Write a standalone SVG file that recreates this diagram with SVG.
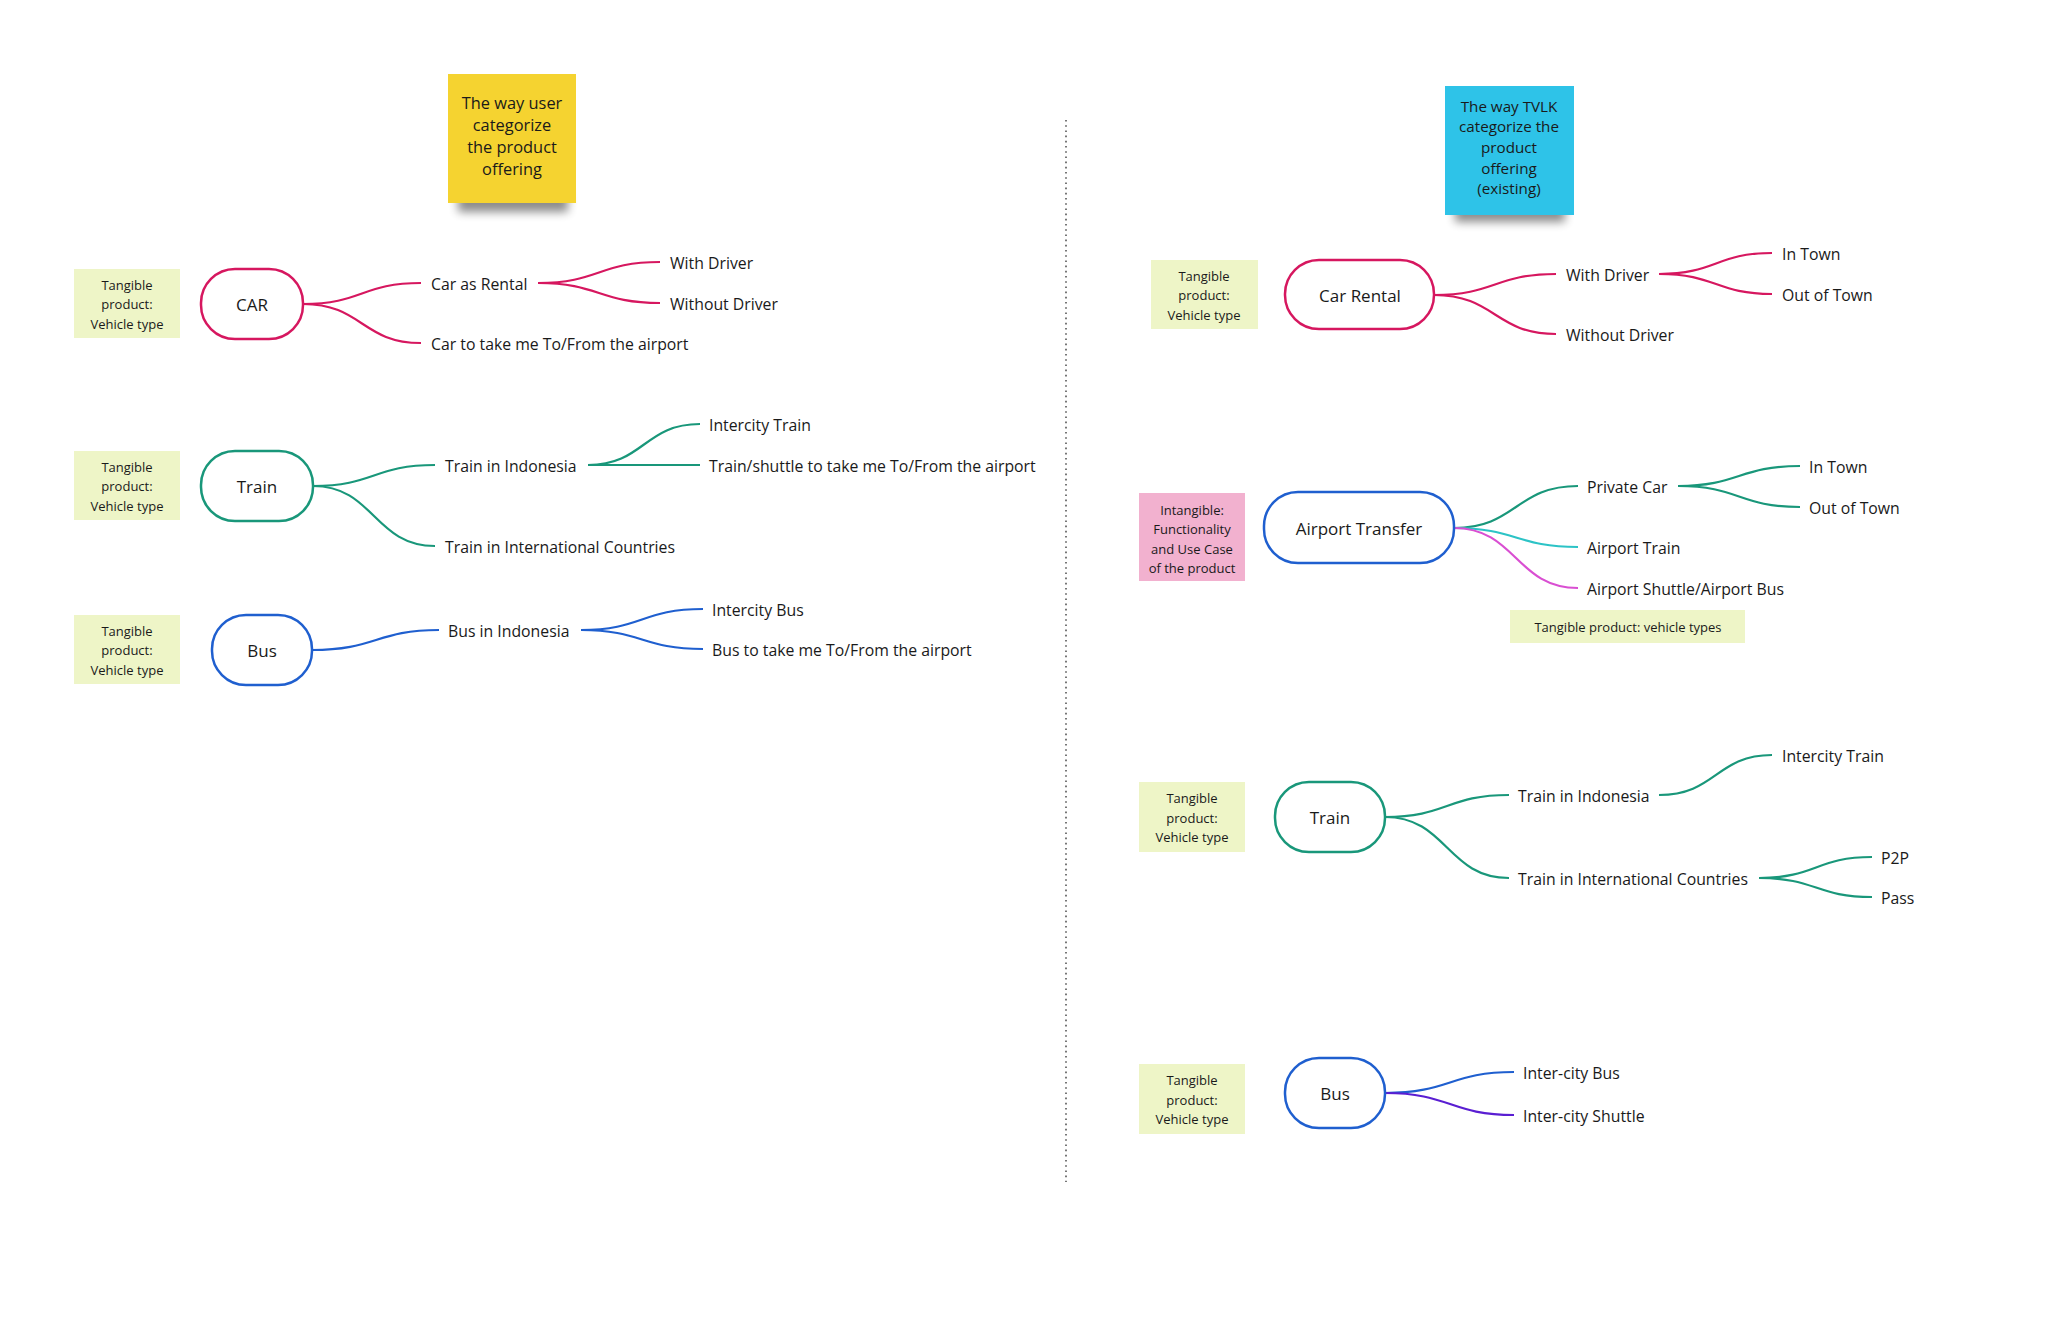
<svg xmlns="http://www.w3.org/2000/svg" width="2048" height="1339" viewBox="0 0 2048 1339">
<defs>
<filter id="sh" x="-30%" y="-100%" width="160%" height="300%"><feGaussianBlur stdDeviation="5"/></filter>
<style>
text{font-family:"Open Sans","Noto Sans","Liberation Sans",sans-serif;fill:#1a1a1a;dominant-baseline:central}
.lbl{font-size:15.8px}
.node{font-size:17px;text-anchor:middle}
.tag{font-size:13px;text-anchor:middle}
.st{font-size:16.4px;text-anchor:middle}
.tg{fill:#eef5c7}
.nd{fill:#fff;stroke-width:2.5}
.c{fill:none;stroke-width:2.2}
.pk{stroke:#d6175f}
.gn{stroke:#19977a}
.bl{stroke:#1f5fcf}
.cy{stroke:#2cc3c6}
.mg{stroke:#d94fd2}
.pu{stroke:#5a1ed2}
</style>
</defs>
<rect width="2048" height="1339" fill="#fff"/>

<line x1="1066" y1="120" x2="1066" y2="1182" stroke="#555" stroke-width="1.6" stroke-dasharray="1.6 3.6"/>

<g id="sticky-user">
<rect x="458" y="190" width="110" height="22" fill="#000" opacity="0.45" filter="url(#sh)"/>
<rect x="448" y="74" width="128" height="129" fill="#f5d330"/>
<text class="st" x="512" y="102">The way user</text>
<text class="st" x="512" y="124">categorize</text>
<text class="st" x="512" y="146">the product</text>
<text class="st" x="512" y="168">offering</text>
</g>

<g id="sticky-tvlk">
<rect x="1455" y="200" width="110" height="22" fill="#000" opacity="0.45" filter="url(#sh)"/>
<rect x="1445" y="86" width="129" height="129" fill="#2ec3e8"/>
<text class="st" style="font-size:15.2px" x="1509" y="106">The way TVLK</text>
<text class="st" style="font-size:15.2px" x="1509" y="126">categorize the</text>
<text class="st" style="font-size:15.2px" x="1509" y="147">product</text>
<text class="st" style="font-size:15.2px" x="1509" y="168">offering</text>
<text class="st" style="font-size:15.2px" x="1509" y="188">(existing)</text>
</g>

<g id="connectors">
<path class="c pk" d="M303 304 C362 304 362 283 421 283"/>
<path class="c pk" d="M303 304 C362 304 362 343 421 343"/>
<path class="c pk" d="M538 283 C599 283 599 262 660 262"/>
<path class="c pk" d="M538 283 C599 283 599 303 660 303"/>
<path class="c gn" d="M313 486 C374 486 374 465 435 465"/>
<path class="c gn" d="M313 486 C374 486 374 546 435 546"/>
<path class="c gn" d="M588 465 C644 465 644 424 700 424"/>
<path class="c gn" d="M588 465 L700 465"/>
<path class="c bl" d="M312 650 C376 650 376 630 439 630"/>
<path class="c bl" d="M581 630 C642 630 642 609 703 609"/>
<path class="c bl" d="M581 630 C642 630 642 649 703 649"/>

<path class="c pk" d="M1434 295 C1495 295 1495 274 1556 274"/>
<path class="c pk" d="M1434 295 C1495 295 1495 334 1556 334"/>
<path class="c pk" d="M1659 274 C1716 274 1716 253 1772 253"/>
<path class="c pk" d="M1659 274 C1716 274 1716 294 1772 294"/>
<path class="c gn" d="M1454 528 C1516 528 1516 486 1578 486"/>
<path class="c cy" d="M1454 528 C1516 528 1516 547 1578 547"/>
<path class="c mg" d="M1454 528 C1516 528 1516 588 1578 588"/>
<path class="c gn" d="M1678 486 C1739 486 1739 466 1800 466"/>
<path class="c gn" d="M1678 486 C1739 486 1739 507 1800 507"/>
<path class="c gn" d="M1385 817 C1447 817 1447 795 1509 795"/>
<path class="c gn" d="M1385 817 C1447 817 1447 878 1509 878"/>
<path class="c gn" d="M1659 795 C1716 795 1716 755 1772 755"/>
<path class="c gn" d="M1759 878 C1816 878 1816 857 1872 857"/>
<path class="c gn" d="M1759 878 C1816 878 1816 897 1872 897"/>
<path class="c bl" d="M1385 1093 C1450 1093 1450 1072 1514 1072"/>
<path class="c pu" d="M1385 1093 C1450 1093 1450 1115 1514 1115"/>
</g>

<g id="tag-car-l"><rect class="tg" x="74" y="269" width="106" height="69"/>
<text class="tag" x="127" y="285">Tangible</text><text class="tag" x="127" y="304">product:</text><text class="tag" x="127" y="324">Vehicle type</text></g>
<g id="node-car"><rect class="nd pk" x="201" y="269" width="102" height="70" rx="34"/><text class="node" x="252" y="304">CAR</text></g>
<g id="n-car-rental-l"><text class="lbl" x="431" y="284">Car as Rental</text></g>
<g id="n-with-driver-l"><text class="lbl" x="670" y="263">With Driver</text></g>
<g id="n-without-driver-l"><text class="lbl" x="670" y="304">Without Driver</text></g>
<g id="n-car-airport-l"><text class="lbl" x="431" y="344">Car to take me To/From the airport</text></g>

<g id="tag-train-l"><rect class="tg" x="74" y="451" width="106" height="69"/>
<text class="tag" x="127" y="467">Tangible</text><text class="tag" x="127" y="486">product:</text><text class="tag" x="127" y="506">Vehicle type</text></g>
<g id="node-train-l"><rect class="nd gn" x="201" y="451" width="112" height="70" rx="34"/><text class="node" x="257" y="486">Train</text></g>
<g id="n-train-indo-l"><text class="lbl" x="445" y="466">Train in Indonesia</text></g>
<g id="n-train-intl-l"><text class="lbl" x="445" y="547">Train in International Countries</text></g>
<g id="n-intercity-train-l"><text class="lbl" x="709" y="425">Intercity Train</text></g>
<g id="n-train-shuttle-l"><text class="lbl" x="709" y="466">Train/shuttle to take me To/From the airport</text></g>

<g id="tag-bus-l"><rect class="tg" x="74" y="615" width="106" height="69"/>
<text class="tag" x="127" y="631">Tangible</text><text class="tag" x="127" y="650">product:</text><text class="tag" x="127" y="670">Vehicle type</text></g>
<g id="node-bus-l"><rect class="nd bl" x="212" y="615" width="100" height="70" rx="34"/><text class="node" x="262" y="650">Bus</text></g>
<g id="n-bus-indo-l"><text class="lbl" x="448" y="631">Bus in Indonesia</text></g>
<g id="n-intercity-bus-l"><text class="lbl" x="712" y="610">Intercity Bus</text></g>
<g id="n-bus-airport-l"><text class="lbl" x="712" y="650">Bus to take me To/From the airport</text></g>

<g id="tag-car-r"><rect class="tg" x="1151" y="260" width="107" height="69"/>
<text class="tag" x="1204" y="276">Tangible</text><text class="tag" x="1204" y="295">product:</text><text class="tag" x="1204" y="315">Vehicle type</text></g>
<g id="node-car-rental"><rect class="nd pk" x="1285" y="260" width="149" height="69" rx="34"/><text class="node" x="1360" y="295">Car Rental</text></g>
<g id="n-with-driver-r"><text class="lbl" x="1566" y="275">With Driver</text></g>
<g id="n-without-driver-r"><text class="lbl" x="1566" y="335">Without Driver</text></g>
<g id="n-in-town-1"><text class="lbl" x="1782" y="254">In Town</text></g>
<g id="n-out-town-1"><text class="lbl" x="1782" y="295">Out of Town</text></g>

<g id="tag-intangible"><rect x="1139" y="493" width="106" height="88" fill="#f2b1cf"/>
<text class="tag" x="1192" y="510">Intangible:</text><text class="tag" x="1192" y="529">Functionality</text><text class="tag" x="1192" y="549">and Use Case</text><text class="tag" x="1192" y="568">of the product</text></g>
<g id="node-airport-transfer"><rect class="nd bl" x="1264" y="492" width="190" height="71" rx="34"/><text class="node" x="1359" y="528">Airport Transfer</text></g>
<g id="n-private-car"><text class="lbl" x="1587" y="487">Private Car</text></g>
<g id="n-in-town-2"><text class="lbl" x="1809" y="467">In Town</text></g>
<g id="n-out-town-2"><text class="lbl" x="1809" y="508">Out of Town</text></g>
<g id="n-airport-train"><text class="lbl" x="1587" y="548">Airport Train</text></g>
<g id="n-airport-shuttle"><text class="lbl" x="1587" y="589">Airport Shuttle/Airport Bus</text></g>
<g id="tag-vehicle-types"><rect class="tg" x="1510" y="610" width="235" height="33"/><text class="tag" x="1628" y="627">Tangible product: vehicle types</text></g>

<g id="tag-train-r"><rect class="tg" x="1139" y="782" width="106" height="70"/>
<text class="tag" x="1192" y="798">Tangible</text><text class="tag" x="1192" y="818">product:</text><text class="tag" x="1192" y="837">Vehicle type</text></g>
<g id="node-train-r"><rect class="nd gn" x="1275" y="782" width="110" height="70" rx="34"/><text class="node" x="1330" y="817">Train</text></g>
<g id="n-train-indo-r"><text class="lbl" x="1518" y="796">Train in Indonesia</text></g>
<g id="n-intercity-train-r"><text class="lbl" x="1782" y="756">Intercity Train</text></g>
<g id="n-train-intl-r"><text class="lbl" x="1518" y="879">Train in International Countries</text></g>
<g id="n-p2p"><text class="lbl" x="1881" y="858">P2P</text></g>
<g id="n-pass"><text class="lbl" x="1881" y="898">Pass</text></g>

<g id="tag-bus-r"><rect class="tg" x="1139" y="1064" width="106" height="70"/>
<text class="tag" x="1192" y="1080">Tangible</text><text class="tag" x="1192" y="1100">product:</text><text class="tag" x="1192" y="1119">Vehicle type</text></g>
<g id="node-bus-r"><rect class="nd bl" x="1285" y="1058" width="100" height="70" rx="34"/><text class="node" x="1335" y="1093">Bus</text></g>
<g id="n-intercity-bus-r"><text class="lbl" x="1523" y="1073">Inter-city Bus</text></g>
<g id="n-intercity-shuttle"><text class="lbl" x="1523" y="1116">Inter-city Shuttle</text></g>
</svg>
